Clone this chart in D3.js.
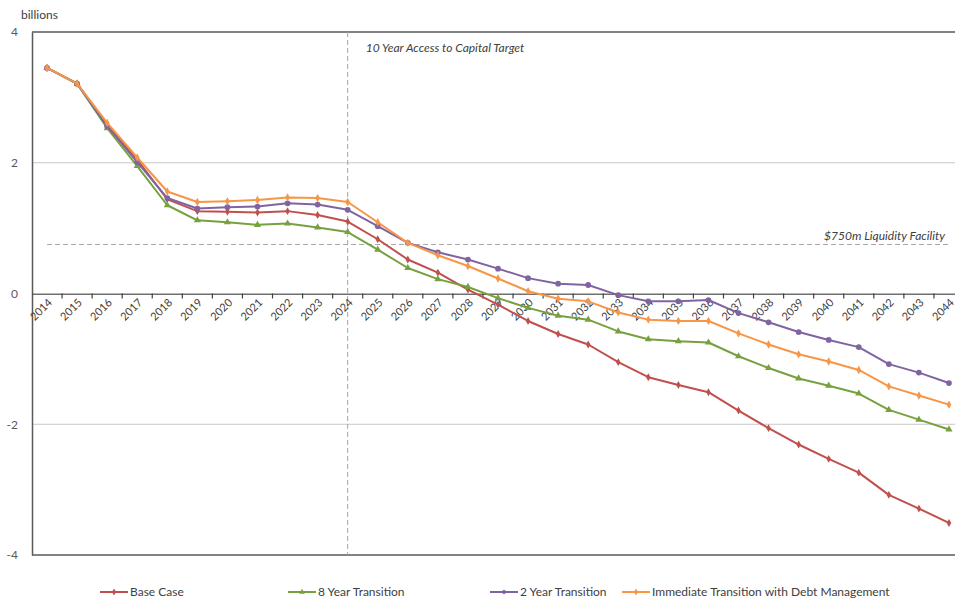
<!DOCTYPE html>
<html>
<head>
<meta charset="utf-8">
<script src="https://cdn.jsdelivr.net/npm/d3@7/dist/d3.min.js"></script>
<style>
  body { margin: 0; background: #fff; }
  svg { display: block; font-family: Lato, "Open Sans", sans-serif; }
</style>
</head>
<body>
<svg id="chart" width="955" height="601"></svg>
<script>
const years = d3.range(2014, 2045).map(String);
const baseCase = [3.45, 3.21, 2.58, 2.05, 1.44, 1.26, 1.25, 1.24, 1.26, 1.20, 1.10, 0.83, 0.52, 0.32, 0.06, -0.17, -0.42, -0.62, -0.78, -1.05, -1.28, -1.40, -1.51, -1.79, -2.06, -2.31, -2.53, -2.74, -3.08, -3.29, -3.51];
const eightYear = [3.45, 3.21, 2.53, 1.95, 1.35, 1.12, 1.09, 1.05, 1.07, 1.01, 0.94, 0.67, 0.39, 0.22, 0.10, -0.07, -0.22, -0.34, -0.40, -0.58, -0.70, -0.73, -0.75, -0.96, -1.14, -1.30, -1.41, -1.53, -1.78, -1.93, -2.08];
const twoYear = [3.45, 3.21, 2.56, 2.01, 1.46, 1.30, 1.32, 1.33, 1.38, 1.36, 1.28, 1.03, 0.775, 0.63, 0.52, 0.38, 0.235, 0.15, 0.13, -0.025, -0.12, -0.12, -0.10, -0.30, -0.44, -0.59, -0.71, -0.82, -1.08, -1.21, -1.37];
const immediate = [3.45, 3.21, 2.61, 2.08, 1.56, 1.40, 1.41, 1.43, 1.47, 1.46, 1.40, 1.09, 0.775, 0.585, 0.42, 0.23, 0.035, -0.08, -0.12, -0.29, -0.40, -0.42, -0.42, -0.61, -0.78, -0.93, -1.04, -1.17, -1.42, -1.56, -1.70];
const seriesNames = ["Base Case", "8 Year Transition", "2 Year Transition", "Immediate Transition with Debt Management"];
const seriesColors = ["#c0504d", "#77a03f", "#8064a2", "#f79646"];
const yTicks = [-4, -2, 0, 2, 4];
const yTickLabels = ["-4", "-2", "0", "2", "4"];
const liquidity = 0.75;
const targetYear = "2024";

const series = [baseCase, eightYear, twoYear, immediate].map((v, i) => ({name: seriesNames[i], color: seriesColors[i], values: v}));

const svg = d3.select("#chart");
const L = 32, R = 964, T = 32, B = 555;

const x = d3.scaleBand().domain(years).range([L, R]);
const y = d3.scaleLinear().domain([-4, 4]).range([B, T]);
const cx = d => x(d) + x.bandwidth() / 2;

const defs = svg.append("defs");
defs.append("clipPath").attr("id", "clip").append("rect").attr("x", 0).attr("y", 0).attr("width", 955).attr("height", 601);

// gridlines
svg.append("g").selectAll("line").data(yTicks.filter(t => t === 2 || t === -2)).join("line")
  .attr("x1", L).attr("x2", 955).attr("y1", d => y(d)).attr("y2", d => y(d))
  .attr("stroke", "#c8c8c8").attr("stroke-width", 1);

// top / bottom borders
svg.append("g").selectAll("line").data([4, -4]).join("line")
  .attr("x1", L).attr("x2", 955).attr("y1", d => y(d)).attr("y2", d => y(d))
  .attr("stroke", "#595959").attr("stroke-width", 1.5);

// y axis
const yAxis = svg.append("g").attr("transform", `translate(${L},0)`)
  .call(d3.axisLeft(y).tickValues(yTicks).tickSize(0).tickPadding(14)
    .tickFormat((d, i) => yTickLabels[i]));
yAxis.select(".domain").attr("stroke", "#595959").attr("stroke-width", 1.5);
yAxis.selectAll("text").attr("fill", "#595959").style("font-size", "12px").style("font-family", "Lato, sans-serif");

svg.append("text").attr("x", 21).attr("y", 19).text("billions")
  .attr("fill", "#404040").style("font-size", "12px");

// dashed reference lines
svg.append("line").attr("x1", cx(targetYear)).attr("x2", cx(targetYear)).attr("y1", T).attr("y2", B)
  .attr("stroke", "#a6a6a6").attr("stroke-dasharray", "5,3").attr("stroke-width", 1);
svg.append("line").attr("x1", cx(years[0])).attr("x2", cx(years[years.length - 1])).attr("y1", y(liquidity)).attr("y2", y(liquidity))
  .attr("stroke", "#a6a6a6").attr("stroke-dasharray", "5,3").attr("stroke-width", 1);

svg.append("text").attr("x", cx(targetYear) + 18).attr("y", 52).text("10 Year Access to Capital Target")
  .attr("fill", "#404040").style("font-size", "12px").style("font-style", "italic");
svg.append("text").attr("x", 945).attr("y", y(liquidity) - 4).attr("text-anchor", "end").text("$750m Liquidity Facility")
  .attr("fill", "#404040").style("font-size", "12px").style("font-style", "italic");

// x axis at zero
const xAxis = svg.append("g").attr("transform", `translate(0,${y(0)})`).attr("clip-path", "url(#clip)")
  .call(d3.axisBottom(x).tickSize(0).tickFormat(""));
xAxis.select(".domain").attr("stroke", "#404040").attr("stroke-width", 1.5);
svg.append("g").selectAll("line").data(years.slice(1)).join("line")
  .attr("x1", d => x(d)).attr("x2", d => x(d)).attr("y1", y(0)).attr("y2", y(0) + 5)
  .attr("stroke", "#404040").attr("stroke-width", 1.2);
svg.append("g").selectAll("text").data(years).join("text")
  .attr("transform", d => `translate(${cx(d) + 3},${y(0) + 7}) rotate(-45)`)
  .attr("text-anchor", "end").attr("dy", "0.35em")
  .text(d => d).attr("fill", "#404040").style("font-size", "11px");

// lines
const line = d3.line().x((d, i) => cx(years[i])).y(d => y(d));
const gS = svg.append("g");
const syms = [d3.symbolDiamond, d3.symbolTriangle, d3.symbolCircle, d3.symbolDiamond];
series.forEach((s, si) => {
  gS.append("path").datum(s.values).attr("d", line).attr("fill", "none")
    .attr("stroke", s.color).attr("stroke-width", 2).attr("stroke-linejoin", "round");
  const m = gS.append("g").attr("fill", s.color);
  const size = [18, 22, 26, 20][si];
  m.selectAll("path").data(s.values).join("path")
    .attr("transform", (d, i) => `translate(${cx(years[i])},${y(d)})`)
    .attr("d", d3.symbol().type(syms[si]).size(size));
});

// legend
const legendX = [100, 288, 490, 622];
const lg = svg.append("g");
series.forEach((s, i) => {
  const g = lg.append("g").attr("transform", `translate(${legendX[i]},592)`);
  g.append("line").attr("x1", 0).attr("x2", 28).attr("stroke", s.color).attr("stroke-width", 2);
  g.append("path").attr("transform", "translate(14,0)").attr("fill", s.color)
    .attr("d", d3.symbol().type(syms[i]).size(14));
  g.append("text").attr("x", 30).attr("dy", "0.35em").text(s.name)
    .attr("fill", "#404040").style("font-size", "12px");
});
</script>
</body>
</html>
